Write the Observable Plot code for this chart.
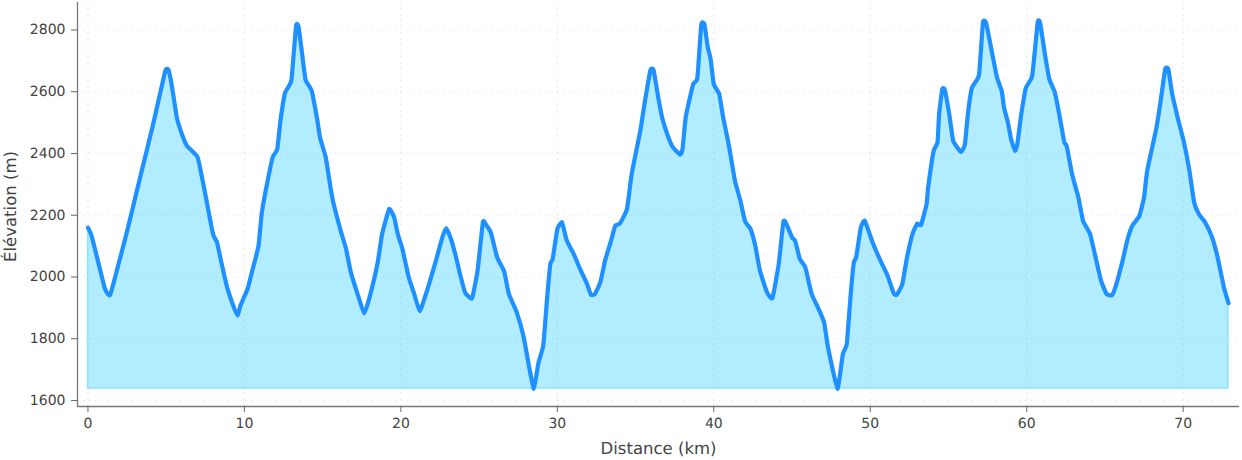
<!DOCTYPE html>
<html><head><meta charset="utf-8">
<script src="https://cdn.jsdelivr.net/npm/d3@7"></script>
<script src="https://cdn.jsdelivr.net/npm/@observablehq/plot@0.6"></script>
<style>html,body{margin:0;padding:0;background:#fff}svg{display:block;opacity:.999}svg text{text-rendering:geometricPrecision}</style>
</head><body><div id="chart"></div>
<script>
const distanceKm = [0,.23,.66,1.09,1.41,1.84,2.48,3.33,4.19,4.94,5.15,5.36,5.68,6,6.32,7,7.29,7.5,7.82,8.03,8.25,8.5,8.89,9.32,9.57,9.74,10.2,10.5,10.9,11.1,11.4,11.8,12.1,12.3,12.6,13,13.3,13.45,13.65,13.9,14.3,14.65,14.83,15.2,15.5,15.7,16.15,16.5,16.8,17.3,17.65,17.97,18.5,18.8,19.25,19.57,19.8,20.1,20.5,20.85,21.2,21.57,21.9,22.3,22.65,22.9,23.2,23.5,23.8,24.1,24.55,24.9,25.05,25.25,25.45,25.75,26.15,26.6,26.9,27.4,27.85,28.2,28.5,28.8,29.1,29.35,29.55,29.7,30,30.3,30.6,31.05,31.45,31.9,32.15,32.4,32.75,33.05,33.4,33.7,34,34.45,34.75,35.3,35.6,35.95,36.15,36.45,36.7,37.1,37.4,37.85,38,38.2,38.5,38.7,38.95,39.2,39.4,39.6,39.8,40,40.35,40.6,40.95,41.35,41.7,42,42.35,42.65,42.95,43.4,43.75,44.15,44.45,44.65,45,45.2,45.5,45.85,46.25,46.7,47.05,47.3,47.9,48.25,48.5,48.75,48.95,49.1,49.4,49.65,50.15,50.65,51.1,51.5,51.7,52.05,52.35,52.7,53,53.25,53.6,53.7,54.05,54.3,54.4,54.6,54.75,55.05,55.3,55.8,56.05,56.25,56.5,56.95,57.2,57.4,57.7,58.1,58.4,58.55,58.8,59,59.25,59.4,59.65,59.95,60.35,60.7,60.85,61.2,61.45,61.8,62.1,62.4,62.55,62.9,63.3,63.6,64.05,64.4,64.75,65.1,65.45,65.7,66.1,66.45,66.75,67.2,67.5,67.7,68.25,68.5,68.85,69.05,69.3,69.65,70.05,70.4,70.7,71,71.4,71.85,72.2,72.6,72.9];
const elevationM = [2160,2133,2047,1961,1941,2020,2144,2322,2500,2667,2670,2619,2516,2463,2425,2389,2322,2268,2182,2133,2112,2053,1967,1902,1875,1907,1961,2020,2101,2204,2290,2387,2414,2506,2597,2637,2813,2813,2737,2640,2603,2511,2452,2387,2290,2236,2150,2090,2015,1934,1882,1929,2042,2139,2220,2193,2139,2090,1999,1945,1889,1940,1994,2064,2128,2158,2123,2069,2005,1950,1931,2020,2090,2180,2169,2144,2064,2018,1945,1886,1805,1708,1638,1724,1778,1934,2042,2058,2155,2177,2118,2074,2026,1977,1942,1945,1983,2053,2112,2166,2173,2220,2333,2473,2570,2670,2670,2581,2516,2452,2419,2396,2414,2516,2587,2627,2644,2818,2818,2748,2705,2624,2592,2516,2430,2312,2247,2180,2155,2101,2020,1950,1932,2042,2180,2171,2128,2117,2058,2031,1945,1896,1853,1772,1638,1751,1783,1945,2047,2064,2161,2182,2112,2053,2005,1947,1943,1977,2064,2139,2173,2169,2236,2290,2408,2436,2527,2608,2608,2527,2441,2405,2430,2533,2613,2654,2824,2824,2748,2646,2603,2549,2500,2446,2409,2430,2527,2613,2651,2824,2824,2710,2640,2597,2521,2436,2425,2333,2258,2182,2139,2064,1988,1945,1941,1972,2047,2123,2166,2198,2258,2344,2473,2549,2673,2673,2592,2516,2436,2344,2241,2204,2177,2128,2064,1967,1915];
const baseline = 1638;
const xTicks = [0,10,20,30,40,50,60,70];
const yTicks = [1600,1800,2000,2200,2400,2600,2800];
const xLabel = "Distance (km)";
const yLabel = "Élévation (m)";

const rows = distanceKm.map((d,i)=>({d,e:elevationM[i]}));
const xDomain = [-0.67,73.6], yDomain = [1580.5,2889];
const tight = d3.curveCardinal.tension(0.6);
const plot = Plot.plot({
  width:1242,height:460,
  marginLeft:77,marginRight:3,marginTop:2,marginBottom:54,
  style:{fontFamily:"'DejaVu Sans'",color:"#444",background:"#fff"},
  x:{domain:xDomain},
  y:{domain:yDomain},
  marks:[
    Plot.gridX(xTicks,{stroke:"#bbb",strokeOpacity:.4,strokeDasharray:"1.5,4.5",strokeWidth:1.2}),
    Plot.gridY(yTicks,{stroke:"#bbb",strokeOpacity:.4,strokeDasharray:"1.5,4.5",strokeWidth:1.2}),
    Plot.areaY(rows,{x:"d",y1:baseline,y2:"e",curve:tight,fill:"#00BFFF",fillOpacity:.3,stroke:"#00BFFF",strokeOpacity:.3,strokeWidth:1.5}),
    Plot.line(rows,{x:"d",y:"e",stroke:"#1E90FF",strokeWidth:4.2,curve:tight,strokeLinejoin:"round"}),
    Plot.ruleX([xDomain[0]],{stroke:"#777",strokeWidth:1.3}),
    Plot.ruleY([yDomain[0]],{stroke:"#777",strokeWidth:1.3}),
    Plot.axisX({ticks:xTicks,tickSize:6,tickPadding:6,stroke:"#666",tickFormat:d=>String(d),label:null,fill:"#444",fontSize:14}),
    Plot.axisY({ticks:yTicks,tickSize:6,tickPadding:6,stroke:"#666",tickFormat:d=>String(d),label:null,fill:"#444",fontSize:14}),
    Plot.text([xLabel],{text:d=>d,frameAnchor:"bottom",dy:47,fontSize:16.5,fill:"#444",lineAnchor:"bottom"}),
    Plot.text([yLabel],{text:d=>d,frameAnchor:"left",textAnchor:"middle",dx:-67,dy:2,rotate:-90,fontSize:16.5,fill:"#444"})
  ]
});
document.getElementById("chart").append(plot);
</script></body></html>
